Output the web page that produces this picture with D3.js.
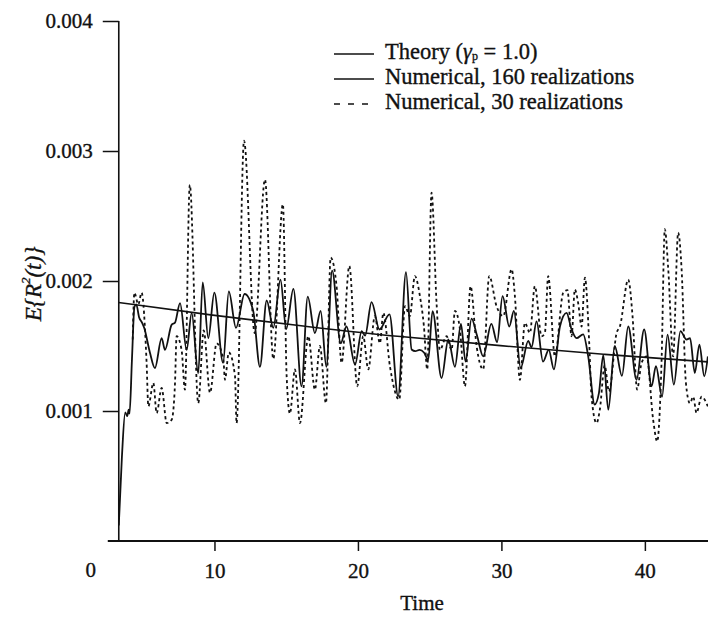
<!DOCTYPE html>
<html>
<head>
<meta charset="utf-8">
<script src="https://cdn.jsdelivr.net/npm/d3@7/dist/d3.min.js"></script>
<style>
html,body{margin:0;padding:0;background:#fff;}
svg{display:block;}
text{font-family:"Liberation Serif","Times New Roman",serif;fill:#111;stroke:#111;stroke-width:0.35px;}
</style>
</head>
<body>
<svg id="chart" width="708" height="617"></svg>
<script>
// ---- data (v in units of 1e-3) ----
const xTicks = [10, 20, 30, 40];
const yTicks = [0.001, 0.002, 0.003, 0.004];
const yTickLabels = ["0.001", "0.002", "0.003", "0.004"];
const legendLabels = ["Theory", "Numerical, 160 realizations", "Numerical, 30 realizations"];

const tTheory = [3.31, 9.7, 16.3, 22.9, 29.9, 37.1, 44.4];
const vTheory = [1.835, 1.737, 1.652, 1.57, 1.503, 1.434, 1.378];

const t160 = [3.33,3.55,3.78,3.92,4.02,4.08,4.25,4.42,4.55,4.75,4.95,5.1,5.5,5.85,6.32,6.55,7.02,7.25,7.6,8.06,
  8.41,8.87,9.18,9.57,9.99,10.6,11.0,11.5,12.1,12.7,13.17,13.64,14.1,14.6,15.0,15.5,16.07,16.5,17.0,17.4,
  17.8,18.2,18.8,19.2,19.8,20.26,20.5,20.95,21.5,22.2,22.8,23.35,23.74,24.0,24.3,24.6,24.9,25.2,25.83,26.3,
  26.76,27.18,27.5,27.92,28.3,28.73,29.3,29.7,30.08,30.55,30.87,31.34,31.87,32.1,32.45,32.9,33.3,33.66,34.08,34.54,
  34.89,35.24,35.7,36.05,36.5,36.8,37.1,37.45,37.9,38.4,38.84,39.42,39.95,40.47,40.77,41.2,41.58,42.02,42.48,42.9,
  43.15,43.48,43.8,44.14,44.39];
const v160 = [0.12,0.65,0.99,0.96,1.01,0.98,1.40,1.80,1.82,1.72,1.68,1.64,1.45,1.33,1.56,1.47,1.665,1.68,1.83,1.47,
  1.755,1.29,1.99,1.56,1.91,1.37,1.92,1.64,1.90,1.77,1.34,1.85,1.64,2.01,1.63,1.94,1.19,1.88,1.60,1.77,
  1.34,2.08,1.52,1.65,1.357,1.614,1.58,1.837,1.627,1.743,1.113,2.069,1.473,1.46,1.47,1.45,1.396,1.768,1.254,1.55,
  1.34,1.67,1.38,1.71,1.58,1.42,1.67,1.53,1.884,1.65,1.77,1.33,1.54,1.49,1.69,1.38,1.47,1.32,1.65,1.755,
  1.627,1.56,1.59,1.42,1.05,1.14,1.43,1.01,1.50,1.27,1.65,1.24,1.627,1.19,1.345,1.11,1.588,1.203,1.614,1.55,
  1.56,1.293,1.51,1.267,1.42];

const t30 = [4.3,4.42,4.69,4.92,5.27,5.39,5.74,5.97,6.32,6.67,7.02,7.25,7.36,7.71,7.94,8.28,8.87,9.25,9.69,10.15,
  10.62,10.73,11.0,11.43,11.54,12.06,12.8,13.52,14.1,14.77,15.03,15.26,15.61,15.96,16.54,17.0,17.35,17.77,18.1,18.51,
  18.86,19.4,19.95,20.37,20.72,21.18,21.53,21.77,22.23,22.88,23.28,23.62,23.97,24.32,24.6,24.83,25.13,25.48,25.71,26.18,
  26.53,26.76,27.11,27.46,27.85,28.27,28.73,29.15,29.66,30.13,30.71,30.94,31.29,31.64,31.99,32.33,32.8,33.03,33.26,33.73,
  34.31,34.6,34.89,35.12,35.35,35.59,35.82,36.12,36.28,36.63,36.86,37.2,37.5,38.03,38.26,38.84,39.14,39.46,39.77,40.12,
  40.58,40.86,41.16,41.39,41.63,41.97,42.32,42.56,42.86,43.14,43.37,43.6,43.95,44.39];
const v30 = [1.55,1.91,1.82,1.91,1.37,1.036,1.215,0.984,1.177,0.907,0.933,1.215,1.575,1.47,1.164,2.74,1.06,1.62,1.14,1.52,
  1.40,1.24,1.45,1.27,0.907,3.08,1.6,2.78,1.40,2.59,1.27,0.98,1.32,0.907,1.576,1.164,1.50,1.06,2.18,1.96,
  1.37,2.115,1.19,1.575,1.32,1.73,1.52,1.755,1.344,1.087,1.807,1.73,2.038,1.884,1.65,1.32,2.68,1.83,1.47,1.575,
  1.47,1.77,1.627,1.19,1.96,1.50,1.32,2.038,1.807,1.73,2.09,1.884,1.24,1.678,1.60,1.96,1.575,1.60,2.038,1.42,
  1.91,1.93,1.575,1.935,1.83,1.65,2.025,1.524,1.113,0.907,1.01,1.35,1.15,1.60,1.65,2.01,1.73,1.165,1.37,1.42,
  0.93,0.766,1.37,2.398,2.09,1.42,2.372,2.09,1.216,1.06,1.11,0.985,1.11,1.036];

// ---- chart ----
const svg = d3.select("#chart");
const x = d3.scaleLinear().domain([0, 44.4]).range([71, 708]);
const y = d3.scaleLinear().domain([0, 0.004]).range([541, 21]);
const tAxis = 3.33; // position of the vertical axis on the time scale

const toPts = (ts, vs) => ts.map((t, i) => [t, vs[i] * 1e-3]);
const line = d3.line().x(d => x(d[0])).y(d => y(d[1]));

// axes
const gx = svg.append("g").attr("transform", `translate(0,${y(0)})`)
  .call(d3.axisBottom(x).tickValues(xTicks).tickSize(10).tickPadding(12).tickFormat(d3.format("d")));
gx.select(".domain").remove();
gx.append("line").attr("x1", x(tAxis) - 11).attr("x2", 708).attr("y1", 0).attr("y2", 0)
  .attr("stroke", "#111").attr("stroke-width", 1.8);
gx.selectAll(".tick line").attr("stroke", "#111").attr("stroke-width", 1.5);
gx.selectAll(".tick text").attr("font-size", 21).attr("font-family", "Liberation Serif").attr("fill", "#111");

const gy = svg.append("g").attr("transform", `translate(${x(tAxis)},0)`)
  .call(d3.axisLeft(y).tickValues(yTicks).tickSize(16).tickPadding(10).tickFormat((d, i) => yTickLabels[i]));
gy.select(".domain").remove();
gy.append("line").attr("x1", 0).attr("x2", 0).attr("y1", y(0.004)).attr("y2", y(0))
  .attr("stroke", "#111").attr("stroke-width", 1.6);
gy.selectAll(".tick line").attr("stroke", "#111").attr("stroke-width", 1.5);
gy.selectAll(".tick text").attr("font-size", 21).attr("font-family", "Liberation Serif").attr("fill", "#111");

// origin label
svg.append("text").attr("x", x(tAxis) - 28).attr("y", y(0) + 31)
  .attr("text-anchor", "middle").attr("dominant-baseline", "middle").attr("font-size", 21).text("0");

// axis titles
svg.append("text").attr("x", 422).attr("y", 605).attr("text-anchor", "middle")
  .attr("dominant-baseline", "middle").attr("font-size", 21).text("Time");
const yl = svg.append("text").attr("transform", "translate(36,284) rotate(-90)")
  .attr("text-anchor", "middle").attr("dominant-baseline", "middle").attr("font-size", 23)
  .attr("font-style", "italic");
yl.append("tspan").text("E{R");
yl.append("tspan").attr("font-size", 13).attr("dy", -9).text("2");
yl.append("tspan").attr("dy", 9).text("(t)}");

// series
const clip = svg.append("clipPath").attr("id", "plotclip").append("rect")
  .attr("x", x(tAxis)).attr("y", 0).attr("width", 708 - x(tAxis)).attr("height", y(0));
const gp = svg.append("g").attr("clip-path", "url(#plotclip)");

gp.append("path").datum(toPts(t30, v30)).attr("fill", "none").attr("stroke", "#111")
  .attr("stroke-width", 1.8).attr("stroke-dasharray", "3,3")
  .attr("d", line.curve(d3.curveMonotoneX));
gp.append("path").datum(toPts(t160, v160)).attr("fill", "none").attr("stroke", "#111")
  .attr("stroke-width", 1.8).attr("d", line.curve(d3.curveMonotoneX));
gp.append("path").datum(toPts(tTheory, vTheory)).attr("fill", "none").attr("stroke", "#111")
  .attr("stroke-width", 1.6).attr("d", line.curve(d3.curveBasis));

// legend
const lg = svg.append("g");
const rows = [54, 79, 104];
const dashes = [null, null, "6,8"];
rows.forEach((ry, i) => {
  lg.append("line").attr("x1", 334).attr("x2", 374).attr("y1", ry).attr("y2", ry)
    .attr("stroke", "#111").attr("stroke-width", 1.6).attr("stroke-dasharray", dashes[i]);
  const t = lg.append("text").attr("x", 385).attr("y", ry).attr("dominant-baseline", "middle")
    .attr("font-size", 22.5);
  if (i === 0) {
    t.append("tspan").text(legendLabels[0] + " (");
    t.append("tspan").attr("font-style", "italic").text("γ");
    t.append("tspan").attr("font-size", 12).attr("dy", 3).text("p");
    t.append("tspan").attr("dy", -3).text(" = 1.0)");
  } else {
    t.text(legendLabels[i]);
  }
});
</script>
</body>
</html>
